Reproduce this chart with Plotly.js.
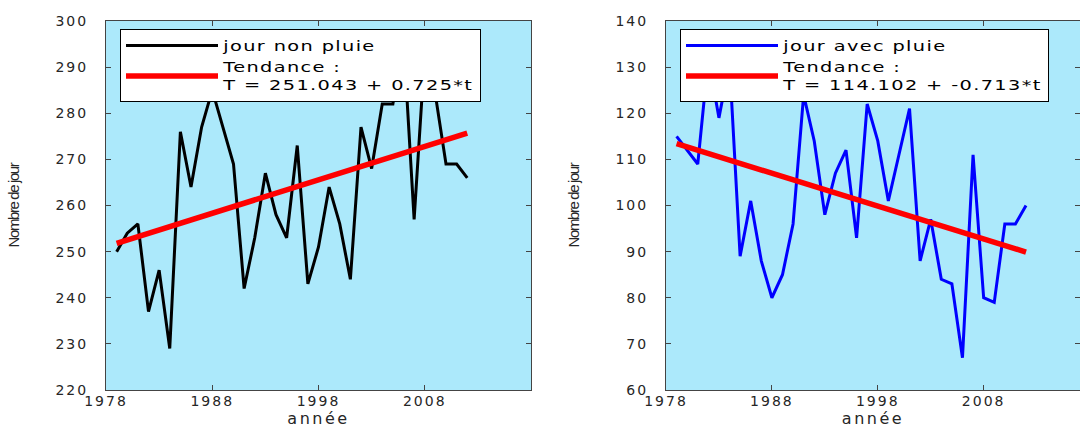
<!DOCTYPE html>
<html><head><meta charset="utf-8">
<script src="https://cdn.plot.ly/plotly-3.0.1.min.js"></script>
<style>
html,body{margin:0;padding:0;background:#fff;}
#chart{width:1080px;height:428px;}
.xtick text,.ytick text,.x2tick text,.y2tick text{letter-spacing:2px;}
svg text.legendtext,svg text.legend2text{letter-spacing:1px;transform-box:fill-box;transform-origin:0 50%;transform:scaleX(1.38);}
.xtitle,.x2title{letter-spacing:2.5px;}
.ytitle,.y2title{letter-spacing:-1.4px;}
</style></head><body><div id="chart"></div>
<script>
const years = [1979,1980,1981,1982,1983,1984,1985,1986,1987,1988,1989,1990,1991,1992,1993,1994,1995,1996,1997,1998,1999,2000,2001,2002,2003,2004,2005,2006,2007,2008,2009,2010,2011,2012];
const joursNonPluie = [250,254,256,237,246,229,276,264,277,285,277,269,242,253,267,258,253,273,243,251,264,256,244,277,268,282,282,296,257,293,284,269,269,266];
const joursAvecPluie = [115,112,109,132,119,131,89,101,88,80,85,96,124,114,98,107,112,93,122,114,101,111,121,88,97,84,83,67,111,80,79,96,96,100];
const trendYears = [1979, 2012];
const trendNonPluie = [251.8, 275.7];
const trendAvecPluie = [113.4, 89.9];
const xTickVals = [1978, 1988, 1998, 2008];
const nameNonPluie = 'jour non pluie';
const nameAvecPluie = 'jour avec pluie';
const nameTrendNonPluie = 'Tendance :<br>T = 251.043 + 0.725*t';
const nameTrendAvecPluie = 'Tendance :<br>T = 114.102 + -0.713*t';
const xTitle = 'année';
const yTitle = 'Nombre de jour';

const FONT = 'DejaVu Sans, Verdana, sans-serif';
const bg = '#ACE9FB';

const traces = [
  {x: years, y: joursNonPluie, type: 'scatter', mode: 'lines', name: nameNonPluie,
   line: {color: '#000000', width: 3}, xaxis: 'x', yaxis: 'y', legend: 'legend'},
  {x: trendYears, y: trendNonPluie, type: 'scatter', mode: 'lines', name: nameTrendNonPluie,
   line: {color: '#FF0000', width: 5.5}, xaxis: 'x', yaxis: 'y', legend: 'legend'},
  {x: years, y: joursAvecPluie, type: 'scatter', mode: 'lines', name: nameAvecPluie,
   line: {color: '#0000FF', width: 3}, xaxis: 'x2', yaxis: 'y2', legend: 'legend2'},
  {x: trendYears, y: trendAvecPluie, type: 'scatter', mode: 'lines', name: nameTrendAvecPluie,
   line: {color: '#FF0000', width: 5.5}, xaxis: 'x2', yaxis: 'y2', legend: 'legend2'}
];

const W = 1080, H = 428;
const yDom = [1 - 390 / H, 1 - 21 / H];
function xAx(dom, range, anchor) {
  return {domain: dom, range: range, anchor: anchor, tickvals: xTickVals, ticks: 'inside', ticklen: 5,
    tickcolor: '#444', showline: true, linecolor: '#444', linewidth: 1, mirror: 'ticks', showgrid: false,
    zeroline: false, tickfont: {family: FONT, size: 14, color: '#262626'},
    ticklabelstandoff: -2, automargin: false,
    title: {text: xTitle, font: {family: FONT, size: 16, color: '#262626'}, standoff: 9}};
}
function yAx(range, anchor) {
  return {domain: yDom, range: range, anchor: anchor, dtick: 10, ticks: 'inside', ticklen: 5,
    tickcolor: '#444', showline: true, linecolor: '#444', linewidth: 1, mirror: 'ticks', showgrid: false,
    zeroline: false, tickfont: {family: FONT, size: 14, color: '#262626'},
    ticklabelstandoff: 14, automargin: false,
    title: {text: yTitle, font: {family: 'Liberation Sans, Arial, sans-serif', size: 15, color: '#262626'}, standoff: 32}};
}
const legStyle = {bgcolor: '#FFFFFF', bordercolor: '#000000', borderwidth: 1,
  font: {family: FONT, size: 14, color: '#000000'}, xanchor: 'left', yanchor: 'top',
  itemwidth: 92, tracegroupgap: 0, itemclick: false, itemdoubleclick: false};

const layout = {
  width: W, height: H,
  margin: {l: 0, r: 0, t: 0, b: 0},
  paper_bgcolor: '#FFFFFF', plot_bgcolor: bg,
  showlegend: true,
  xaxis: xAx([106 / W, 531 / W], [1978, 2018], 'y'),
  yaxis: yAx([220, 300], 'x'),
  xaxis2: xAx([666 / W, 1], [1978, 2017.1], 'y2'),
  yaxis2: yAx([60, 140], 'x2'),
  legend: Object.assign({}, legStyle, {x: 120 / W, y: 1 - 29 / H}),
  legend2: Object.assign({}, legStyle, {x: 680 / W, y: 1 - 29 / H})
};

Plotly.newPlot('chart', traces, layout, {displayModeBar: false, staticPlot: true});
</script></body></html>
